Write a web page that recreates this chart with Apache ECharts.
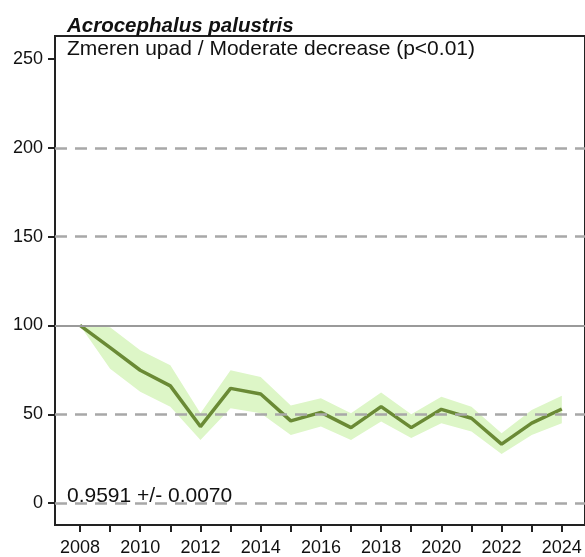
<!DOCTYPE html>
<html>
<head>
<meta charset="utf-8">
<style>html,body{margin:0;padding:0;background:#fff;}#c{width:585px;height:557px;}</style>
<script src="https://cdn.jsdelivr.net/npm/echarts@6/dist/echarts.min.js"></script>
</head>
<body>
<div id="c"></div>
<script>
var years = [2008,2009,2010,2011,2012,2013,2014,2015,2016,2017,2018,2019,2020,2021,2022,2023,2024];
var indexValues = [100,87.5,74.8,66,43.1,64.6,61.4,46.3,51.1,42.5,54.3,42.5,52.8,47.8,33.2,45,53];
var lowerValues = [100,75.7,62.7,54.3,35.6,53.4,50.6,38.4,43.1,35.6,45.9,36.6,45,40.3,27.6,38.4,45];
var upperValues = [100,99,86,77.6,50.6,74.8,71,54.9,59,50.6,62.3,50,59.9,54.3,39.4,52.4,60.4];
var xLabelYears = [2008,2010,2012,2014,2016,2018,2020,2022,2024];
var yTicks = [0,50,100,150,200,250];
var dashedGrid = [0,50,150,200];
var solidGrid = [100];
var titleText = 'Acrocephalus palustris';
var subtitleText = 'Zmeren upad / Moderate decrease (p<0.01)';
var slopeText = '0.9591 +/- 0.0070';

var chart = echarts.init(document.getElementById('c'), null, {renderer:'canvas'});
var font = 'Liberation Sans, Arial, sans-serif';

var bandData = years.map(function(y,i){return [y, lowerValues[i], upperValues[i]];});
var lineData = years.map(function(y,i){return [y, indexValues[i]];});

var markLines = dashedGrid.map(function(v){
  return {yAxis:v, lineStyle:{color:'#a8a8a8', width:2.5, type:[12,8]}};
}).concat(solidGrid.map(function(v){
  return {yAxis:v, lineStyle:{color:'#9a9a9a', width:2, type:'solid'}};
}));

chart.setOption({
  animation:false,
  grid:{left:55, top:36, right:0, bottom:30, show:true, borderColor:'#222', borderWidth:2, backgroundColor:'transparent'},
  xAxis:{
    type:'value', min:2007.17, max:2024.77,
    axisLine:{show:true, onZero:false, lineStyle:{color:'#222', width:2}},
    axisTick:{show:true, length:7, customValues:years, lineStyle:{color:'#222', width:2}},
    axisLabel:{customValues:xLabelYears, margin:14, color:'#111', fontSize:18, fontFamily:font, formatter:function(v){return String(v);}},
    splitLine:{show:false}
  },
  yAxis:{
    type:'value', min:-12.3, max:262.9,
    axisLine:{show:true, onZero:false, lineStyle:{color:'#222', width:2}},
    axisTick:{show:true, length:7, customValues:yTicks, lineStyle:{color:'#222', width:2}},
    axisLabel:{customValues:yTicks, margin:12, color:'#111', fontSize:18, fontFamily:font},
    splitLine:{show:false}
  },
  graphic:[
    {type:'text', left:67, top:16, style:{text:titleText, font:'italic bold 20.5px '+font, fill:'#111'}},
    {type:'text', left:67, top:39, style:{text:subtitleText, font:'21px '+font, fill:'#111'}},
    {type:'text', left:67, top:486, style:{text:slopeText, font:'21px '+font, fill:'#111'}}
  ],
  series:[
    {type:'custom', data:bandData, silent:true, z:1,
     encode:{x:0, y:[1,2]},
     renderItem:function(params, api){
       if (params.dataIndex !== 0) return null;
       var pts = [];
       for (var i=0;i<years.length;i++) pts.push(api.coord([years[i], upperValues[i]]));
       for (var j=years.length-1;j>=0;j--) pts.push(api.coord([years[j], lowerValues[j]]));
       return {type:'polygon', shape:{points:pts}, style:{fill:'#ddf6c7', stroke:null}};
     }},
    {type:'line', data:[], symbol:'none', silent:true, z:2,
     markLine:{silent:true, symbol:'none', label:{show:false}, data:markLines}},
    {type:'line', data:lineData, symbol:'none', lineStyle:{color:'#6a8a35', width:3.5}, z:3}
  ]
});
</script>
</body>
</html>
